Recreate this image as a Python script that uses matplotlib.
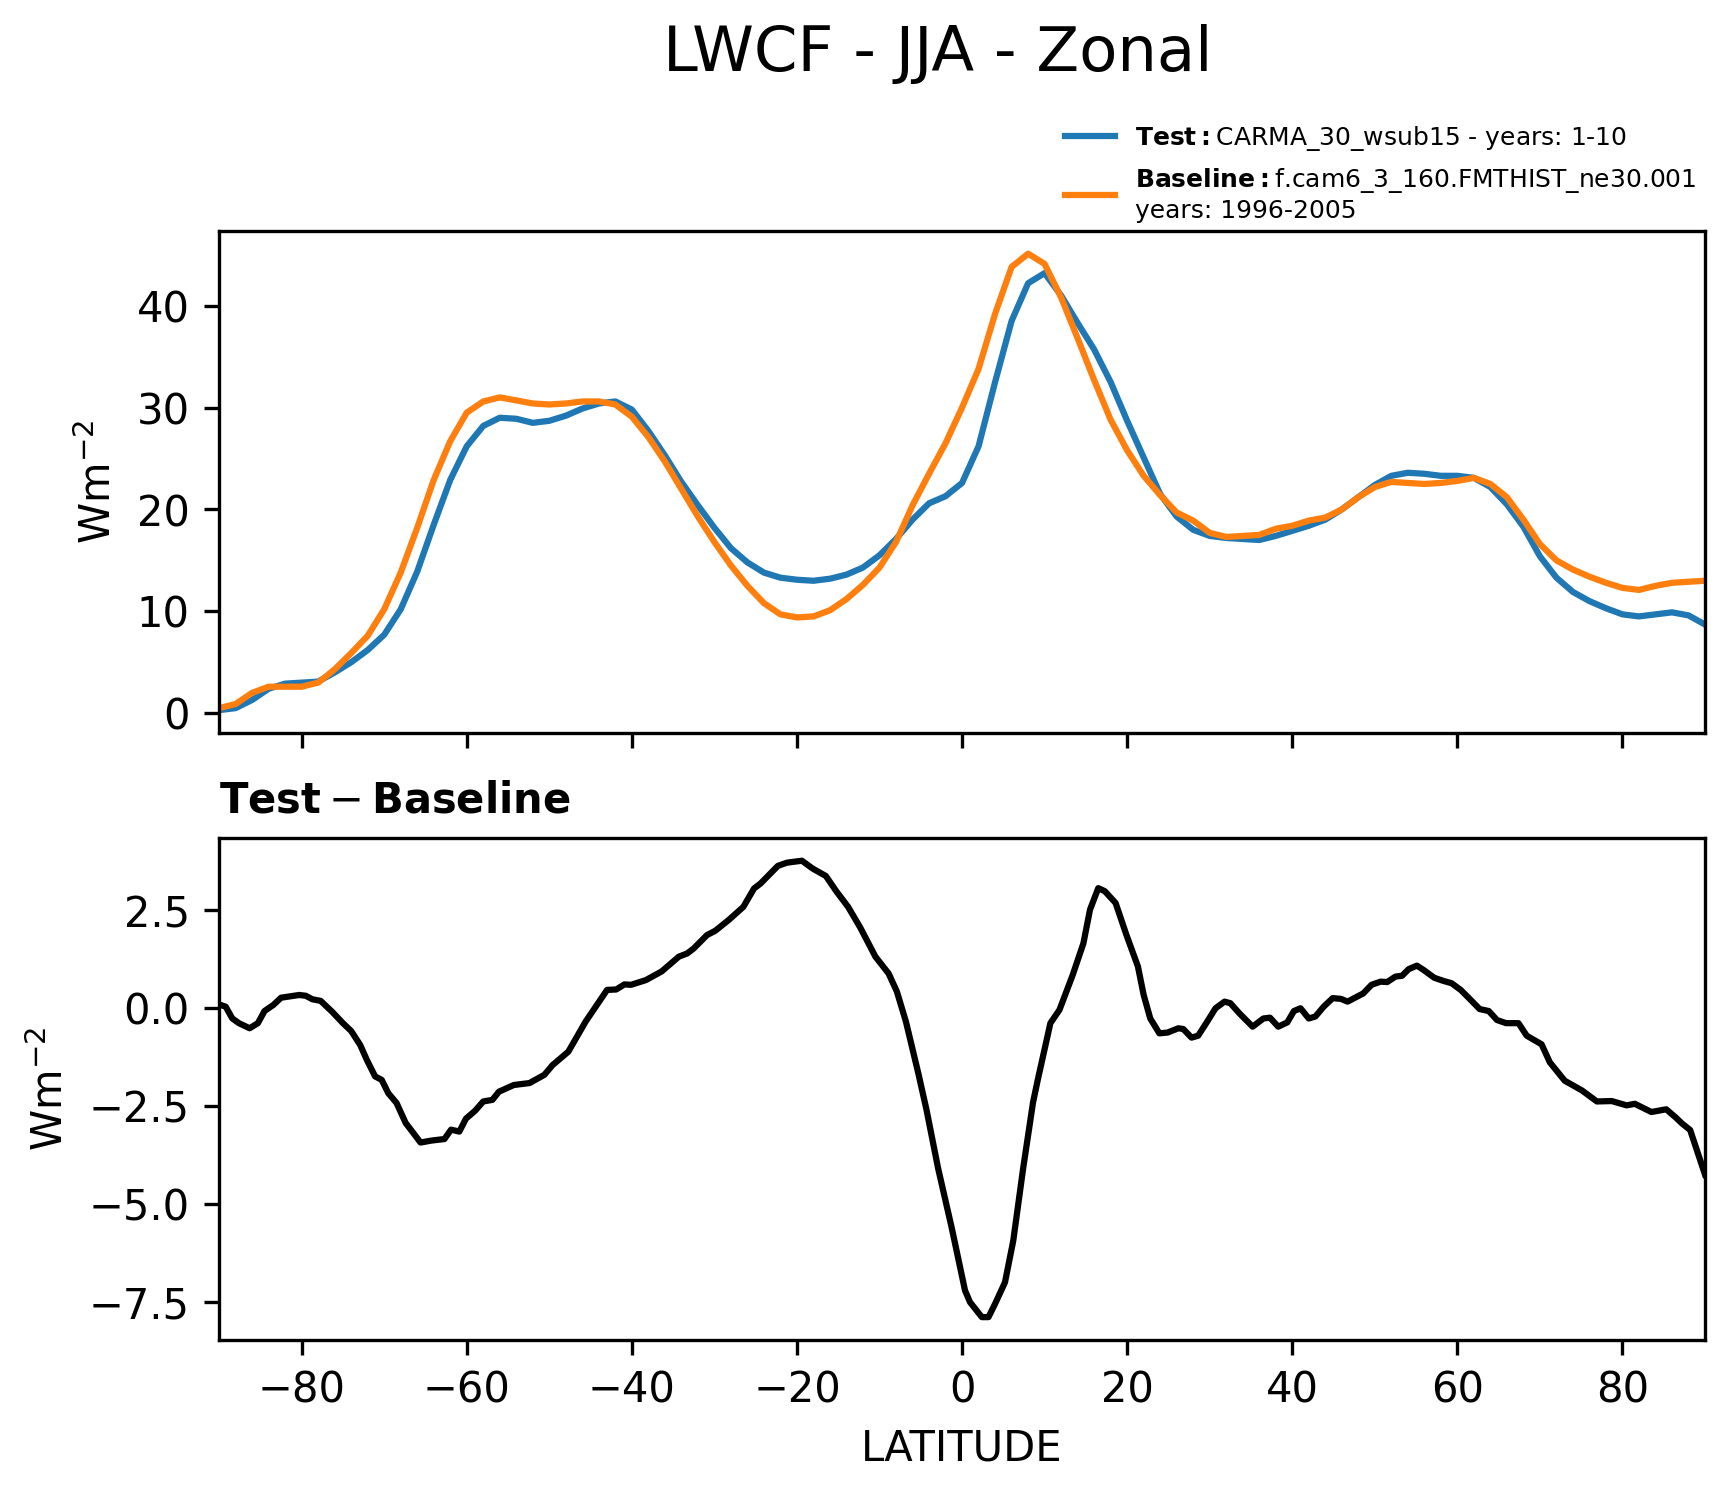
import numpy as np
import matplotlib
matplotlib.use("Agg")
import matplotlib.pyplot as plt

# zonal means, 2 degree spacing
lat = np.arange(-90, 91, 2)

test_vals = [0.3, 0.5, 1.3, 2.4, 2.9, 3.0, 3.1, 4.0, 5.0, 6.2,
             7.7, 10.2, 13.9, 18.5, 22.9, 26.2, 28.2, 29.0, 28.9, 28.5,
             28.7, 29.2, 29.9, 30.4, 30.6, 29.8, 27.7, 25.3, 22.7, 20.4,
             18.2, 16.2, 14.8, 13.8, 13.3, 13.1, 13.0, 13.2, 13.6, 14.3,
             15.5, 17.1, 19.0, 20.6, 21.3, 22.6, 26.2, 32.5, 38.5, 42.2,
             43.2, 41.0, 38.3, 35.7, 32.5, 28.7, 25.1, 21.5, 19.3, 18.0,
             17.4, 17.2, 17.1, 17.0, 17.4, 17.9, 18.4, 19.0, 20.0, 21.2,
             22.4, 23.3, 23.6, 23.5, 23.3, 23.3, 23.1, 22.2, 20.5, 18.3,
             15.4, 13.3, 11.9, 11.0, 10.3, 9.7, 9.5, 9.7, 9.9, 9.6,
             8.7]

base_vals = [0.5, 0.9, 2.0, 2.6, 2.6, 2.6, 3.0, 4.3, 5.9, 7.6,
             10.2, 13.8, 18.2, 22.9, 26.7, 29.5, 30.6, 31.0, 30.7, 30.4,
             30.3, 30.4, 30.6, 30.6, 30.3, 29.1, 27.1, 24.7, 22.0, 19.3,
             16.8, 14.5, 12.5, 10.8, 9.7, 9.4, 9.5, 10.1, 11.2, 12.6,
             14.3, 16.8, 20.4, 23.5, 26.5, 30.0, 33.8, 39.2, 43.8, 45.1,
             44.1, 40.8, 36.8, 32.7, 28.8, 25.8, 23.3, 21.4, 19.7, 18.9,
             17.7, 17.3, 17.4, 17.5, 18.1, 18.4, 18.9, 19.2, 20.0, 21.2,
             22.2, 22.7, 22.6, 22.5, 22.6, 22.8, 23.1, 22.5, 21.2, 19.0,
             16.6, 15.0, 14.1, 13.4, 12.8, 12.3, 12.1, 12.5, 12.8, 12.9,
             13.0]

# difference curve, read separately (finer detail)
diff_lat = [-90.0, -89.2, -88.4, -87.6, -86.3, -85.3, -84.5, -83.4, -82.5, -80.3,
            -79.5, -78.7, -77.7, -76.3, -75.0, -74.0, -72.9, -72.1, -71.1, -70.3,
            -69.5, -68.5, -67.4, -66.6, -65.6, -64.3, -62.7, -61.9, -60.9, -60.1,
            -59.0, -58.0, -56.9, -56.1, -54.3, -52.4, -50.6, -49.6, -47.7, -45.6,
            -43.0, -41.9, -40.9, -40.1, -38.3, -36.4, -34.3, -33.3, -32.5, -30.9,
            -29.9, -28.3, -26.5, -25.2, -24.4, -22.3, -21.2, -19.4, -18.1, -16.5,
            -15.2, -13.8, -12.3, -10.5, -8.9, -7.9, -6.8, -5.3, -4.3, -2.9,
            -1.25, 0.36, 0.97, 2.4, 3.2, 4.0, 5.2, 6.2, 7.4, 8.6,
            9.2, 10.7, 11.8, 13.4, 14.7, 15.5, 16.5, 17.3, 18.6, 19.9,
            21.3, 22.0, 22.8, 23.9, 24.9, 26.2, 26.8, 27.8, 28.6, 29.7,
            30.7, 31.8, 32.5, 33.6, 35.2, 36.5, 37.3, 38.3, 39.4, 40.2,
            41.0, 42.0, 42.8, 43.8, 44.9, 45.9, 46.7, 48.6, 49.6, 50.7,
            51.5, 52.5, 53.3, 54.1, 55.1, 55.9, 57.2, 58.3, 59.3, 60.4,
            61.4, 62.7, 63.8, 64.8, 65.9, 67.4, 68.4, 70.2, 71.2, 73.0,
            75.1, 76.9, 78.7, 80.5, 81.5, 83.5, 85.3, 86.4, 87.2, 88.2,
            90.0]

diff_vals = [0.10, 0.04, -0.26, -0.38, -0.51, -0.38, -0.07, 0.09, 0.27, 0.34,
             0.32, 0.23, 0.19, -0.09, -0.38, -0.58, -0.94, -1.32, -1.74, -1.83,
             -2.17, -2.42, -2.93, -3.15, -3.43, -3.38, -3.34, -3.10, -3.15, -2.82,
             -2.62, -2.38, -2.34, -2.13, -1.96, -1.91, -1.70, -1.45, -1.11, -0.34,
             0.47, 0.48, 0.61, 0.60, 0.72, 0.94, 1.32, 1.40, 1.53, 1.87,
             1.98, 2.25, 2.59, 3.06, 3.19, 3.64, 3.72, 3.77, 3.57, 3.38,
             2.98, 2.59, 2.05, 1.32, 0.89, 0.43, -0.34, -1.66, -2.60, -4.09,
             -5.61, -7.21, -7.51, -7.89, -7.89, -7.55, -7.00, -5.94, -4.09, -2.40,
             -1.80, -0.38, -0.04, 0.85, 1.66, 2.52, 3.07, 2.99, 2.69, 1.88,
             1.07, 0.34, -0.26, -0.64, -0.62, -0.51, -0.53, -0.75, -0.70, -0.34,
             0.00, 0.17, 0.13, -0.13, -0.47, -0.26, -0.24, -0.47, -0.36, -0.07,
             0.00, -0.26, -0.21, 0.04, 0.26, 0.24, 0.17, 0.38, 0.60, 0.68,
             0.67, 0.81, 0.83, 1.00, 1.09, 0.98, 0.78, 0.70, 0.64, 0.47,
             0.26, -0.02, -0.07, -0.30, -0.38, -0.38, -0.70, -0.92, -1.38, -1.85,
             -2.10, -2.38, -2.37, -2.48, -2.44, -2.65, -2.58, -2.78, -2.94, -3.11,
             -4.25]

test_label = r"$\bf{Test}:$CARMA_30_wsub15 - years: 1-10"
base_label = r"$\bf{Baseline}:$f.cam6_3_160.FMTHIST_ne30.001" + "\nyears: 1996-2005"

fig, (ax0, ax1) = plt.subplots(2, 1, sharex=True, figsize=(5.787, 4.987), dpi=300)
fig.subplots_adjust(left=0.1262, right=0.9821, top=0.8456, bottom=0.1043, hspace=0.209)

ax0.plot(lat, test_vals, color="tab:blue", label=test_label)
ax0.plot(lat, base_vals, color="tab:orange", label=base_label)
ax0.set_ylabel("Wm$^{-2}$")
ax0.legend(loc="lower right", bbox_to_anchor=(1.0097, 0.972), frameon=False, fontsize=6)

ax1.plot(diff_lat, diff_vals, color="black")
ax1.set_title(r"$\mathbf{Test} - \mathbf{Baseline}$", loc="left", fontsize=10)
ax1.set_ylabel("Wm$^{-2}$")
ax1.set_xlabel("LATITUDE")
ax1.set_xlim(-90, 90)

fig.suptitle("LWCF - JJA - Zonal", fontsize=15, x=0.540, y=0.964, va="center")

fig.savefig("out.png", dpi=300)
